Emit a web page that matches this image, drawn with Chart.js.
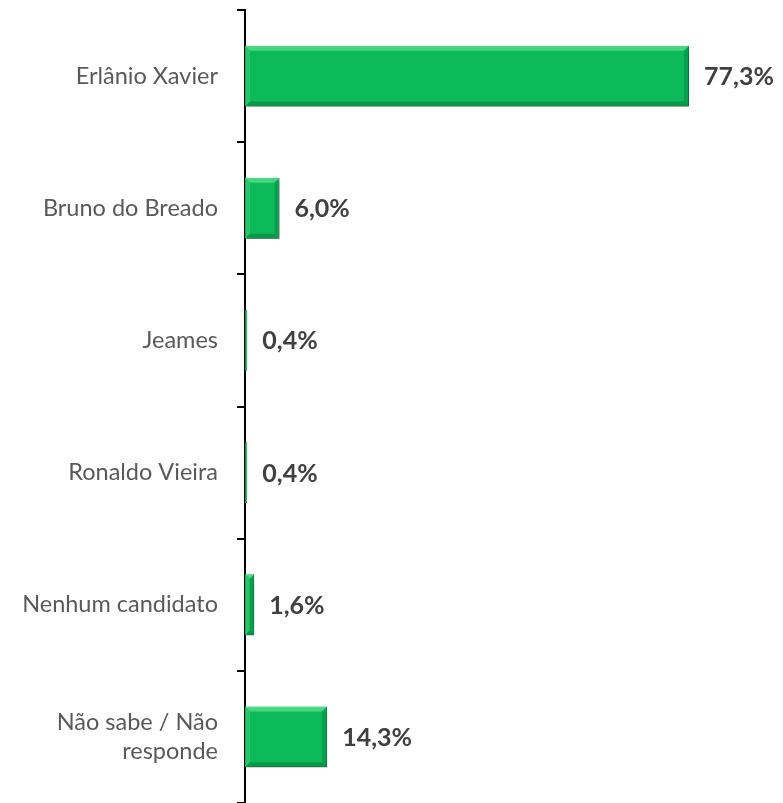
<!DOCTYPE html>
<html>
<head>
<meta charset="utf-8">
<script src="https://cdn.jsdelivr.net/npm/chart.js@4.4.1/dist/chart.umd.min.js"></script>
<style>
  html, body { margin: 0; padding: 0; background: #fff; }
  #wrap { width: 783px; height: 803px; }
</style>
</head>
<body>
<div id="wrap"><canvas id="chart"></canvas></div>
<script>
// ===== DATA =====
const categories = [
  'Erlânio Xavier',
  'Bruno do Breado',
  'Jeames',
  'Ronaldo Vieira',
  'Nenhum candidato',
  ['Não sabe / Não', 'responde']
];
const values = [77.3, 6.0, 0.4, 0.4, 1.6, 14.3];
const valueLabels = ['77,3%', '6,0%', '0,4%', '0,4%', '1,6%', '14,3%'];

// ===== BEVEL + SHADOW FOR BARS =====
const bevelPlugin = {
  id: 'bevel',
  beforeDatasetDraw(chart) {
    const ctx = chart.ctx;
    ctx.save();
    ctx.shadowColor = 'rgba(0,0,0,0.3)';
    ctx.shadowBlur = 4;
    ctx.shadowOffsetX = 2;
    ctx.shadowOffsetY = 3;
  },
  afterDatasetDraw(chart) {
    const ctx = chart.ctx;
    ctx.restore();
    const meta = chart.getDatasetMeta(0);
    meta.data.forEach(bar => {
      const left = bar.base, right = bar.x;
      const top = bar.y - bar.height / 2, bottom = bar.y + bar.height / 2;
      const w = right - left;
      if (w < 3) return;
      const b = Math.min(5, w / 2);
      ctx.save();
      // top highlight
      ctx.fillStyle = 'rgba(120,235,160,0.55)';
      ctx.beginPath();
      ctx.moveTo(left, top); ctx.lineTo(right, top);
      ctx.lineTo(right - b, top + b); ctx.lineTo(left + b, top + b);
      ctx.closePath(); ctx.fill();
      // left highlight
      ctx.fillStyle = 'rgba(90,220,140,0.35)';
      ctx.beginPath();
      ctx.moveTo(left, top); ctx.lineTo(left + b, top + b);
      ctx.lineTo(left + b, bottom - b); ctx.lineTo(left, bottom);
      ctx.closePath(); ctx.fill();
      // bottom shade
      ctx.fillStyle = 'rgba(0,90,40,0.35)';
      ctx.beginPath();
      ctx.moveTo(left, bottom); ctx.lineTo(right, bottom);
      ctx.lineTo(right - b, bottom - b); ctx.lineTo(left + b, bottom - b);
      ctx.closePath(); ctx.fill();
      // right shade
      ctx.fillStyle = 'rgba(0,100,45,0.3)';
      ctx.beginPath();
      ctx.moveTo(right, top); ctx.lineTo(right - b, top + b);
      ctx.lineTo(right - b, bottom - b); ctx.lineTo(right, bottom);
      ctx.closePath(); ctx.fill();
      ctx.restore();
    });
  }
};

// ===== VALUE LABELS =====
const valueLabelPlugin = {
  id: 'valueLabels',
  afterDraw(chart) {
    const ctx = chart.ctx;
    const meta = chart.getDatasetMeta(0);
    ctx.save();
    ctx.font = "bold 25px Lato";
    ctx.fillStyle = '#404040';
    ctx.textAlign = 'left';
    ctx.textBaseline = 'middle';
    meta.data.forEach((bar, i) => {
      ctx.fillText(valueLabels[i], bar.x + 15, bar.y + 1);
    });
    ctx.restore();
  }
};

new Chart(document.getElementById('chart'), {
  type: 'bar',
  data: {
    labels: categories,
    datasets: [{
      data: values,
      backgroundColor: '#0cba5a',
      borderColor: '#08964a',
      borderWidth: 1,
      borderSkipped: false,
      barPercentage: 0.46,
      categoryPercentage: 1
    }]
  },
  options: {
    indexAxis: 'y',
    responsive: true,
    maintainAspectRatio: false,
    animation: false,
    layout: { padding: { top: 10, right: 21, bottom: 0, left: 0 } },
    plugins: {
      legend: { display: false },
      tooltip: { enabled: false }
    },
    scales: {
      x: {
        display: false,
        min: 0,
        max: 90
      },
      y: {
        grid: {
          display: true,
          offset: true,
          drawOnChartArea: false,
          drawTicks: true,
          tickLength: 8,
          color: '#000',
          lineWidth: 2
        },
        border: { display: true, color: '#000', width: 2 },
        ticks: {
          color: '#595959',
          padding: 19,
          font: { family: 'Lato', size: 23.5, lineHeight: 1.25 }
        },
        afterFit(scale) {
          scale.width = 245;
          scale.paddingTop = 0;
          scale.paddingBottom = 0;
        }
      }
    }
  },
  plugins: [bevelPlugin, valueLabelPlugin]
});
</script>
</body>
</html>
